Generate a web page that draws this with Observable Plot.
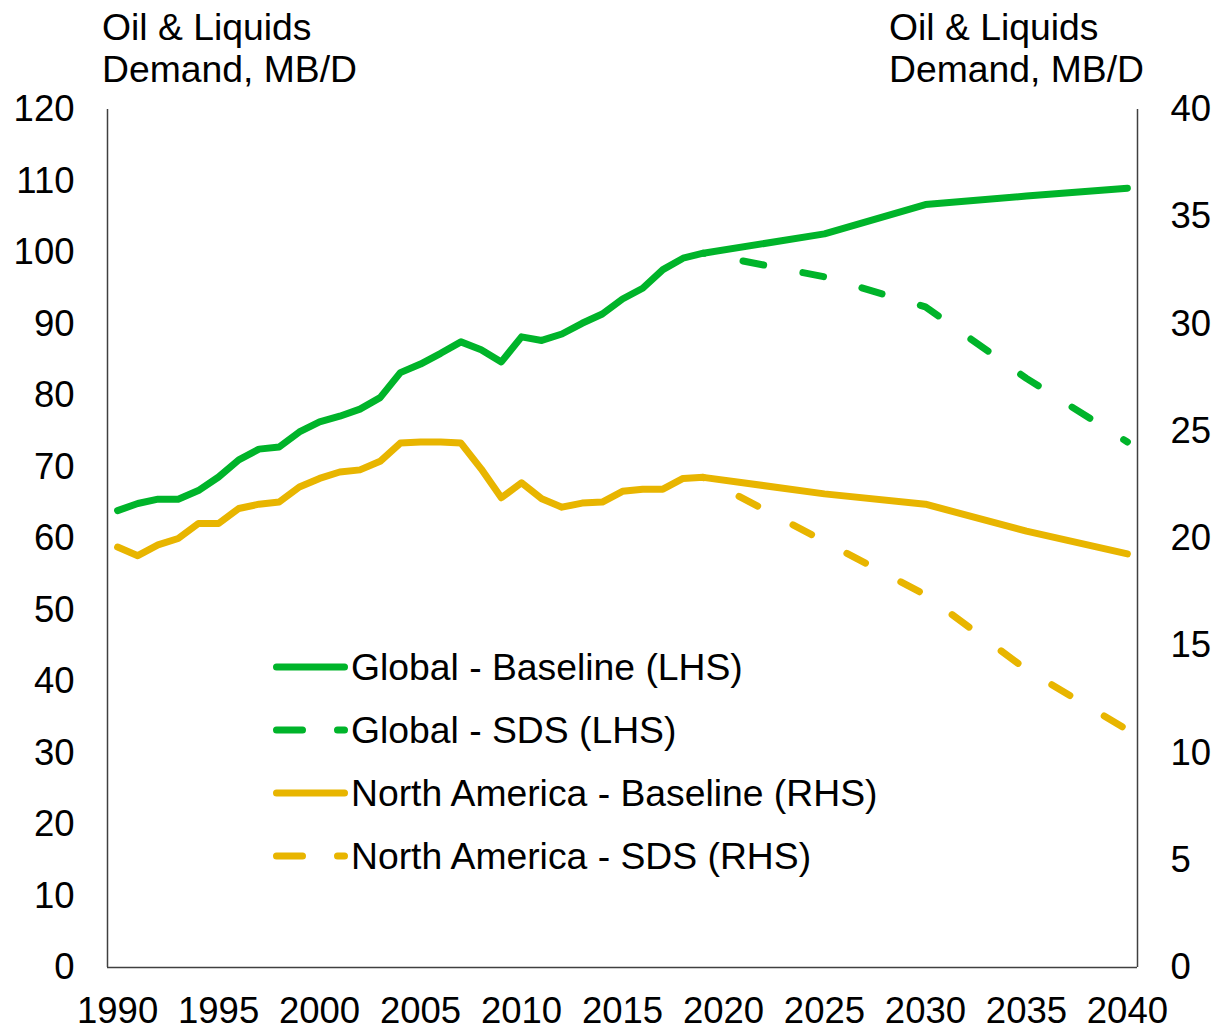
<!DOCTYPE html>
<html>
<head>
<meta charset="utf-8">
<script src="https://cdn.jsdelivr.net/npm/d3@7"></script>
<script src="https://cdn.jsdelivr.net/npm/@observablehq/plot@0.6"></script>
<style>
  html, body { margin: 0; padding: 0; background: #fff; }
  #wrap { position: relative; width: 1216px; height: 1030px; font-family: Arial, "Liberation Sans", sans-serif; }
  #overlay { position: absolute; left: 0; top: 0; pointer-events: none; }
</style>
</head>
<body>
<div id="wrap"></div>
<script>
// ---------- data ----------
const histYears = [1990,1991,1992,1993,1994,1995,1996,1997,1998,1999,2000,2001,2002,2003,2004,2005,2006,2007,2008,2009,2010,2011,2012,2013,2014,2015,2016,2017,2018,2019];
const globalHist = [63.9,64.9,65.5,65.5,66.7,68.6,71.0,72.5,72.8,74.9,76.3,77.1,78.1,79.7,83.2,84.4,85.9,87.5,86.4,84.7,88.2,87.7,88.6,90.1,91.4,93.5,95.0,97.6,99.2,99.9];
const naHist = [19.6,19.2,19.7,20.0,20.7,20.7,21.4,21.6,21.7,22.4,22.8,23.1,23.2,23.6,24.45,24.5,24.5,24.45,23.25,21.9,22.6,21.85,21.46,21.65,21.7,22.2,22.3,22.3,22.8,22.85];

const projYears = [2019, 2025, 2030, 2035, 2040];
const globalBaseProj = [99.9, 102.6, 106.7, 107.9, 109.0];
const globalSDSProj = [99.9, 96.6, 92.4, 82.4, 73.5];
const naBaseProj = [22.85, 22.08, 21.6, 20.34, 19.28];
const naSDSProj = [22.85, 19.86, 17.37, 13.89, 11.08];

const xTicks = [1990,1995,2000,2005,2010,2015,2020,2025,2030,2035,2040];
const leftTicks = [0,10,20,30,40,50,60,70,80,90,100,110,120];
const rightTicks = [0,5,10,15,20,25,30,35,40];

const seriesNames = ["Global - Baseline (LHS)", "Global - SDS (LHS)", "North America - Baseline (RHS)", "North America - SDS (RHS)"];
const axisTitle = ["Oil & Liquids", "Demand, MB/D"];

const GREEN = "#00B42A";
const GOLD = "#E8B500";
const AXIS = "#404040";
const RATIO = 3; // right axis 0-40 mapped onto left 0-120

// ---------- tables ----------
const globalBase = histYears.map((y, i) => ({year: y, v: globalHist[i]}))
  .concat(projYears.slice(1).map((y, i) => ({year: y, v: globalBaseProj[i + 1]})));
const naBase = histYears.map((y, i) => ({year: y, v: naHist[i]}))
  .concat(projYears.slice(1).map((y, i) => ({year: y, v: naBaseProj[i + 1]})));
const globalSDS = projYears.map((y, i) => ({year: y, v: globalSDSProj[i]}));
const naSDS = projYears.map((y, i) => ({year: y, v: naSDSProj[i]}));

const lineOpts = {strokeWidth: 7, strokeLinejoin: "round", strokeLinecap: "round"};
const dashOpts = {...lineOpts, strokeDasharray: "21,40", strokeDashoffset: 20.5};

const chart = Plot.plot({
  width: 1216,
  height: 1030,
  marginLeft: 107,
  marginRight: 79,
  marginTop: 109,
  marginBottom: 63,
  style: {fontFamily: "Arial, 'Liberation Sans', sans-serif", fontSize: "36.5px", color: "#000", background: "#fff"},
  x: {domain: [1989.5, 2040.5]},
  y: {domain: [0, 120]},
  marks: [
    Plot.line(naSDS, {x: "year", y: d => d.v * RATIO, stroke: GOLD, ...dashOpts}),
    Plot.line(naBase, {x: "year", y: d => d.v * RATIO, stroke: GOLD, ...lineOpts}),
    Plot.line(globalSDS, {x: "year", y: "v", stroke: GREEN, ...dashOpts}),
    Plot.line(globalBase, {x: "year", y: "v", stroke: GREEN, ...lineOpts}),
    Plot.ruleX([1989.5], {stroke: AXIS, strokeWidth: 1.5}),
    Plot.ruleX([2040.5], {stroke: AXIS, strokeWidth: 1.5}),
    Plot.ruleY([0], {stroke: AXIS, strokeWidth: 1.5}),
    Plot.axisX({ticks: xTicks, tickFormat: d => String(d), tickSize: 0, tickPadding: 30, label: null, fill: "#000"}),
    Plot.axisY({anchor: "left", ticks: leftTicks, tickFormat: d => String(d), tickSize: 0, tickPadding: 33, label: null, fill: "#000"}),
    Plot.axisY({anchor: "right", ticks: rightTicks.map(v => v * RATIO), tickFormat: d => String(Math.round(d / RATIO)), tickSize: 0, tickPadding: 33, label: null, fill: "#000"})
  ]
});
const wrap = document.getElementById("wrap");
wrap.appendChild(chart);

// ---------- titles and legend overlay ----------
const ns = "http://www.w3.org/2000/svg";
const ov = document.createElementNS(ns, "svg");
ov.setAttribute("id", "overlay");
ov.setAttribute("width", 1216);
ov.setAttribute("height", 1030);
function txt(x, y, s) {
  const t = document.createElementNS(ns, "text");
  t.setAttribute("x", x); t.setAttribute("y", y);
  t.setAttribute("font-family", "Arial, 'Liberation Sans', sans-serif");
  t.setAttribute("font-size", "37.3px");
  t.setAttribute("fill", "#000");
  t.textContent = s;
  ov.appendChild(t);
}
function seg(x1, x2, y, color, dash) {
  const l = document.createElementNS(ns, "line");
  l.setAttribute("x1", x1); l.setAttribute("x2", x2);
  l.setAttribute("y1", y); l.setAttribute("y2", y);
  l.setAttribute("stroke", color); l.setAttribute("stroke-width", 7);
  l.setAttribute("stroke-linecap", "round");
  if (dash) l.setAttribute("stroke-dasharray", dash);
  ov.appendChild(l);
}
txt(102, 39.5, axisTitle[0]);
txt(102, 82, axisTitle[1]);
txt(889, 39.5, axisTitle[0]);
txt(889, 82, axisTitle[1]);

const legendColors = [GREEN, GREEN, GOLD, GOLD];
const legendDash = [null, "26,35", null, "26,35"];
const legendY = [667, 730, 793, 856];
seriesNames.forEach((name, i) => {
  seg(276.5, 344.5, legendY[i], legendColors[i], legendDash[i]);
  txt(351, legendY[i] + 13, name);
});
wrap.appendChild(ov);
</script>
</body>
</html>
